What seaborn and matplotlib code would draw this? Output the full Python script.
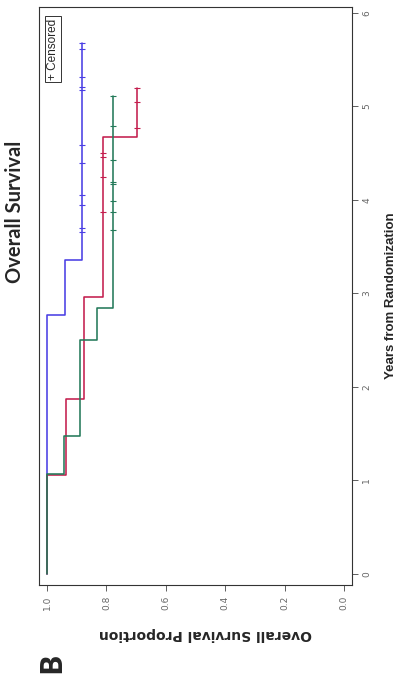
import numpy as np
import pandas as pd
import seaborn as sns
import matplotlib
matplotlib.use('Agg')
import matplotlib.pyplot as plt

sns.set_style('white')
plt.rcParams['font.family'] = ['DejaVu Sans']

blue_years = [0.0, 2.77, 3.36, 5.68]
blue_surv = [1.0, 0.941, 0.882, 0.882]
red_years = [0.0, 1.06, 1.87, 2.96, 4.67, 5.20]
red_surv = [1.0, 0.9375, 0.875, 0.8125, 0.696, 0.696]
green_years = [0.0, 1.07, 1.48, 2.50, 2.84, 5.11]
green_surv = [1.0, 0.944, 0.889, 0.833, 0.778, 0.778]

# censoring times
blue_cens = [5.68, 5.61, 5.32, 5.21, 5.18, 4.59, 4.40, 4.05, 3.95, 3.70, 3.66]
red_cens = [5.20, 5.05, 4.77, 4.50, 4.46, 4.25, 3.87]
green_cens = [5.11, 4.79, 4.43, 4.19, 4.17, 3.99, 3.87, 3.68]

year_ticks = [0, 1, 2, 3, 4, 5, 6]
prop_ticks = [0.0, 0.2, 0.4, 0.6, 0.8, 1.0]

PALETTE = {'blue': '#4a3fe4', 'red': '#c41e4e', 'green': '#247a5a'}

W, H = 413, 681


def fx(x):
    return x / W


def fy(y):
    return 1 - y / H


def surv_at(years, surv, t):
    i = np.searchsorted(years, t, side='right') - 1
    return surv[i]


curves = [('blue', blue_years, blue_surv, blue_cens),
          ('red', red_years, red_surv, red_cens),
          ('green', green_years, green_surv, green_cens)]

steps = pd.concat([pd.DataFrame({'years': yrs, 'surv': sv, 'arm': name})
                   for name, yrs, sv, _ in curves], ignore_index=True)
cens = pd.concat([pd.DataFrame({'years': c,
                                'surv': [surv_at(yrs, sv, t) for t in c],
                                'arm': name})
                  for name, yrs, sv, c in curves], ignore_index=True)

fig = plt.figure(figsize=(W / 100, H / 100), dpi=100)
ax = fig.add_axes([fx(39), fy(585), (352 - 39) / W, (585 - 7) / H])

# whole chart is turned 90 degrees: years run up, proportion runs right-to-left
sns.lineplot(data=steps, x='surv', y='years', hue='arm', palette=PALETTE,
             orient='y', estimator=None, drawstyle='steps-pre',
             linewidth=1.15, legend=False, ax=ax)
sns.scatterplot(data=cens, x='surv', y='years', hue='arm', palette=PALETTE,
                marker='_', s=20, linewidth=0.8, legend=False, ax=ax)

ax.set_xlim(1.027, -0.027)
ax.set_ylim(-0.118, 6.064)
ax.set_xlabel('')
ax.set_ylabel('')

ax.yaxis.tick_right()
ax.set_yticks(year_ticks)
ax.set_yticklabels([str(t) for t in year_ticks], rotation=90, va='center')
ax.set_xticks(prop_ticks)
ax.set_xticklabels(['%.1f' % p for p in prop_ticks], rotation=90, ha='center')
ax.tick_params(axis='both', length=4.5, width=0.6, color='#444444',
               labelsize=6.5, labelcolor='#666666', pad=3)
ax.tick_params(axis='y', right=True, left=False)
ax.tick_params(axis='x', bottom=True)
for s in ax.spines.values():
    s.set_color('#333333')
    s.set_linewidth(0.8)

ax.text(fx(53), fy(49), '+ Censored', transform=fig.transFigure, rotation=90,
        ha='center', va='center', fontsize=8.5, family=['Liberation Sans', 'DejaVu Sans'],
        bbox=dict(boxstyle='square,pad=0.2', fc='white', ec='#333333', lw=0.7))

fig.text(fx(15), fy(212), 'Overall Survival', rotation=90, ha='center', va='center',
         fontsize=14.5, fontweight='bold', family=['Lato', 'DejaVu Sans'])
fig.text(fx(391), fy(296), 'Years from Randomization', rotation=90, ha='center',
         va='center', fontsize=9.5, fontweight='bold',
         family=['Liberation Sans Narrow', 'Liberation Sans', 'DejaVu Sans'])
fig.text(fx(205), fy(634), 'Overall Survival Proportion', rotation=180, ha='center',
         va='center', fontsize=10, fontweight='bold', family=['DejaVu Sans'])
fig.text(fx(52), fy(663), 'B', rotation=90, ha='center', va='center',
         fontsize=22, fontweight='bold', family=['Open Sans', 'DejaVu Sans'])

fig.savefig('out.png', dpi=100)
